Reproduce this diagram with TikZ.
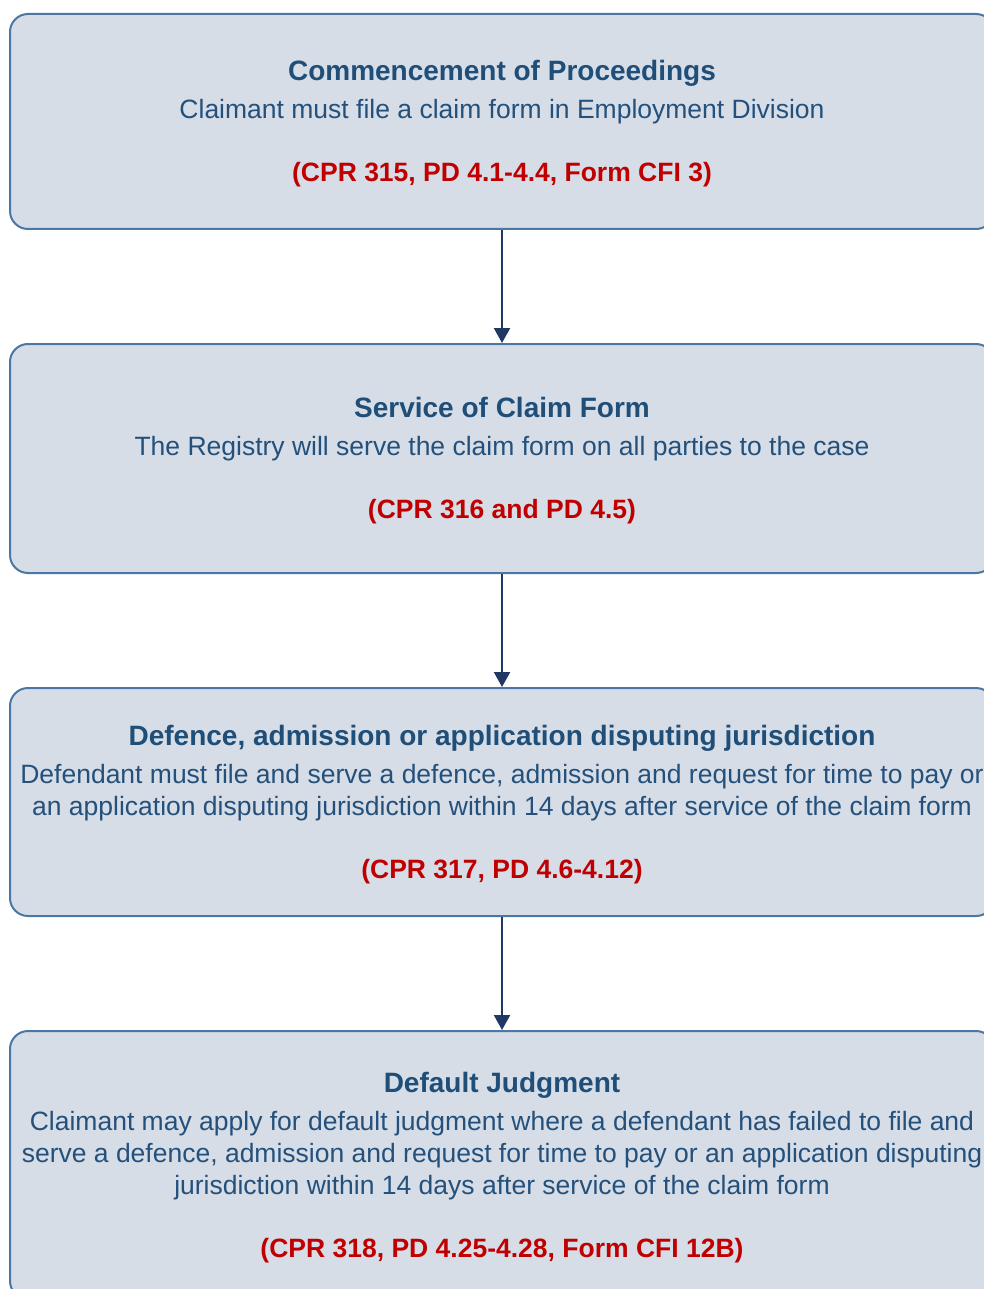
\documentclass[tikz,border=0pt]{standalone}
\usepackage{fontspec}
\setmainfont{Liberation Sans}
\usetikzlibrary{arrows.meta}
\definecolor{boxfill}{HTML}{D6DDE6}
\definecolor{boxline}{HTML}{4A77A3}
\definecolor{titleblue}{HTML}{1F4E79}
\definecolor{bodyblue}{HTML}{24507C}
\definecolor{refred}{HTML}{C00000}
\definecolor{arrowblue}{HTML}{1F3864}
\tikzset{
  stepbox/.style={draw=boxline, fill=boxfill, line width=2pt, rounded corners=18pt,
    minimum width=984pt, anchor=north west, inner sep=0pt,
    align=center, text=bodyblue, font=\fontsize{26.5}{32}\selectfont},
  flow/.style={draw=arrowblue, line width=2.2pt, -{Triangle[width=16pt,length=15pt]}},
}
\newcommand{\ttl}[1]{{\fontsize{28}{32}\selectfont\bfseries\color{titleblue}\rule{0pt}{25pt}#1}}
\newcommand{\rf}[1]{{\bfseries\color{refred}#1}}
\begin{document}
\begin{tikzpicture}[x=1pt,y=-1pt]
\useasboundingbox (0,0) rectangle (984,1289);
\clip (0,0) rectangle (984,1289);
\node[stepbox, minimum height=215pt] (b1) at (9,13)
  {\ttl{Commencement of Proceedings}\\[6pt]
   Claimant must file a claim form in Employment Division\\[31pt]
   \rf{(CPR 315, PD 4.1-4.4, Form CFI 3)}};
\node[stepbox, minimum height=229pt] (b2) at (9,343)
  {\ttl{Service of Claim Form}\\[6pt]
   The Registry will serve the claim form on all parties to the case\\[31pt]
   \rf{(CPR 316 and PD 4.5)}};
\node[stepbox, minimum height=228pt] (b3) at (9,687)
  {\ttl{Defence, admission or application disputing jurisdiction}\\[6pt]
   Defendant must file and serve a defence, admission and request for time to pay or\\
   an application disputing jurisdiction within 14 days after service of the claim form\\[31pt]
   \rf{(CPR 317, PD 4.6-4.12)}};
\node[stepbox, minimum height=268pt] (b4) at (9,1030)
  {\ttl{Default Judgment}\\[6pt]
   Claimant may apply for default judgment where a defendant has failed to file and\\
   serve a defence, admission and request for time to pay or an application disputing\\
   jurisdiction within 14 days after service of the claim form\\[31pt]
   \rf{(CPR 318, PD 4.25-4.28, Form CFI 12B)}};
\draw[flow] (b1.south) -- (b2.north);
\draw[flow] (b2.south) -- (b3.north);
\draw[flow] (b3.south) -- (b4.north);
\end{tikzpicture}
\end{document}
